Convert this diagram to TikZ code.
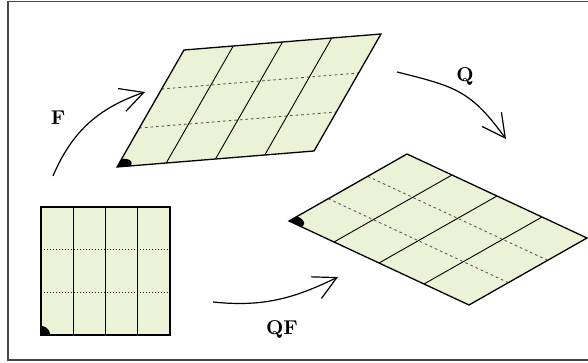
\documentclass[tikz,border=0pt]{standalone}
\usetikzlibrary{calc,arrows.meta}
\definecolor{paper}{RGB}{236,242,214}
\definecolor{framegray}{RGB}{70,70,70}
\tikzset{
  x=0.5pt, y=0.5pt,
  edge/.style={line width=0.65pt, line join=miter},
  fold/.style={line width=0.45pt},
  crease/.style={line width=0.45pt, black!65, dash pattern=on 1.3pt off 1.5pt},
  creasedot/.style={line width=0.5pt, black!85, dash pattern=on 0.45pt off 1.05pt},
  map/.style={line width=0.6pt, -{Straight Barb[length=11.5pt,width=12pt]}},
  lbl/.style={inner sep=0pt},
  frameline/.style={line width=0.55pt, framegray}
}
\newcommand\drawsheet[5]{%
  \coordinate (#1o) at #2;
  \coordinate (#1u) at #3;
  \coordinate (#1v) at #4;
  \coordinate (#1a) at ($(#1o)+(#1u)$);
  \coordinate (#1b) at ($(#1o)+(#1u)+(#1v)$);
  \coordinate (#1c) at ($(#1o)+(#1v)$);
  \fill[paper] (#1o) -- (#1a) -- (#1b) -- (#1c) -- cycle;
  \foreach \t in {1,2} \draw[#5] ($(#1o)+\t/3*(#1v)$) -- ($(#1a)+\t/3*(#1v)$);
  \foreach \s in {1,2,3} \draw[fold] ($(#1o)+\s/4*(#1u)$) -- ($(#1c)+\s/4*(#1u)$);
  \fill (#1o) \foreach \a in {0,10,...,90}{ -- ($(#1o)+{0.07*cos(\a)}*(#1u)+{0.07*sin(\a)}*(#1v)$)} -- cycle;
  \draw[edge] (#1o) -- (#1a) -- (#1b) -- (#1c) -- cycle;
}
\begin{document}
\begin{tikzpicture}
\useasboundingbox (0,0) rectangle (588,363);
\clip (0,0) rectangle (588,363);
\draw[frameline] (600,361.5) -- (8,361.5) -- (8,3) -- (600,3);
% sheets
\drawsheet{sq}{(41,28)}{(129,0)}{(0,128)}{creasedot}
\drawsheet{fp}{(117,196)}{(197,16)}{(67,117)}{crease}
\drawsheet{qp}{(289,142)}{(180,-84)}{(118,67)}{crease}
% arrows
\coordinate (fs) at (53,187);
\coordinate (fe) at (145,271);
\draw[map] (fs) to[out=67,in=199] (fe);
\coordinate (qs) at (397,291);
\coordinate (qe) at (506,224);
\draw[map] (qs) to[out=-14,in=126,looseness=1.2] (qe);
\coordinate (rs) at (213,61);
\coordinate (re) at (338,86);
\draw[map] (rs) to[out=-6,in=206] (re);
% labels
\node[lbl] (lf) at (58,245) {$\mathbf{F}$};
\node[lbl] (lq) at (465,286) {$\mathbf{Q}$};
\node[lbl] (lqf) at (282,33) {$\mathbf{QF}$};
\end{tikzpicture}
\end{document}
